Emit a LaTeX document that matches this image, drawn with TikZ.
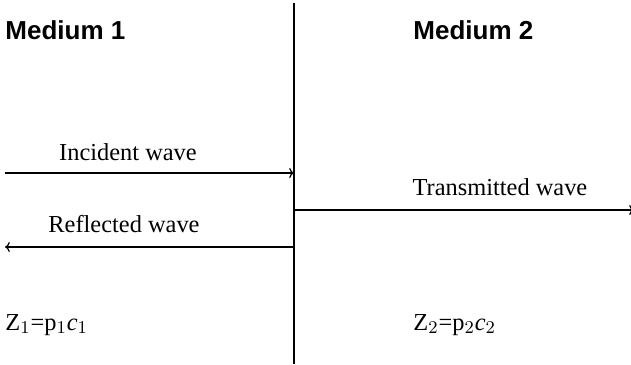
\documentclass[tikz,border=0pt]{standalone}
\usepackage{fontspec}
\setmainfont{Liberation Serif}
\newfontfamily\headfont{Liberation Sans}
\usetikzlibrary{positioning,arrows.meta}
\tikzset{
  medlbl/.style ={font=\headfont\fontsize{13}{15}\selectfont\bfseries, anchor=west, inner sep=0pt},
  wavelbl/.style={font=\fontsize{12.2}{14}\selectfont, inner sep=0pt},
  implbl/.style ={font=\fontsize{12.2}{14}\selectfont, anchor=west, inner sep=0pt},
  ray/.style    ={-{To[length=2.4pt,width=5pt]}, line width=0.6pt},
  bnd/.style    ={line width=0.7pt},
}
\begin{document}
\begin{tikzpicture}[x=0.5pt,y=-0.5pt]
\useasboundingbox (0,0) rectangle (631,364);
% interface between the two media
\coordinate (top) at (294,3);
\coordinate (bot) at (294,364);
\draw[bnd] (top) -- (bot);

\node[medlbl] (med1) at (5,30) {Medium 1};
\node[medlbl] (med2) at (413,30) {Medium 2};

% incident and reflected waves in medium 1
\coordinate (incL) at (5,173);
\coordinate (incR) at (294,173);
\coordinate (refR) at (294,247);
\coordinate (refL) at (5,247);
\draw[ray] (incL) -- (incR);
\draw[ray] (refR) -- (refL);
\node[wavelbl] (inc) at (128,152) {Incident wave};
\node[wavelbl] (ref) at (124,224) {Reflected wave};

% transmitted wave in medium 2
\coordinate (trL) at (294,210);
\coordinate (trR) at (634,210);
\draw[ray] (trL) -- (trR);
\node[wavelbl] (tr) at (500,187) {Transmitted wave};

\node[implbl] (z1) at (5,325) {Z$_1$=p$_1$\textit{c}$_1$};
\node[implbl] (z2) at (413,325) {Z$_2$=p$_2$\textit{c}$_2$};
\end{tikzpicture}
\end{document}
